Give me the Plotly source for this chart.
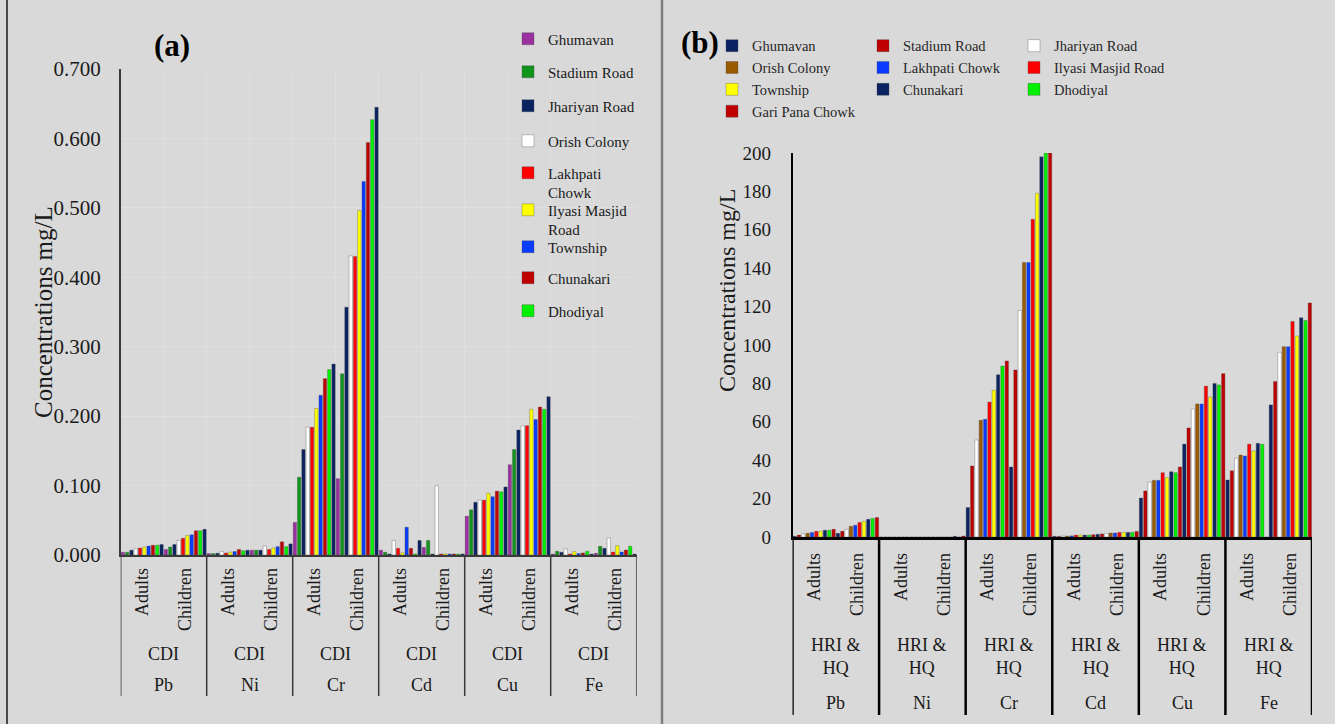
import plotly.graph_objects as go

# ---------------- data ----------------
metals = ["Pb", "Ni", "Cr", "Cd", "Cu", "Fe"]
groups = ["Adults", "Children"]
index_a = "CDI"
index_b = "HRI &<br>HQ"

# Panel (a): CDI (mg/L), order: Pb-A, Pb-C, Ni-A, Ni-C, Cr-A, Cr-C, Cd-A, Cd-C, Cu-A, Cu-C, Fe-A, Fe-C
cdi_ghumavan = [0.004, 0.008, 0.002, 0.007, 0.047, 0.110, 0.007, 0.011, 0.056, 0.130, 0.0014, 0.0024]
cdi_stadium = [0.004, 0.0115, 0.002, 0.007, 0.112, 0.261, 0.004, 0.021, 0.065, 0.152, 0.0053, 0.0125]
cdi_jhariyan = [0.007, 0.015, 0.0025, 0.007, 0.152, 0.357, 0.0015, 0.0015, 0.076, 0.180, 0.004, 0.0096]
cdi_orish = [0.009, 0.021, 0.005, 0.013, 0.184, 0.431, 0.021, 0.100, 0.079, 0.186, 0.009, 0.0245]
cdi_lakhpati = [0.010, 0.024, 0.003, 0.008, 0.184, 0.430, 0.0096, 0.0015, 0.079, 0.186, 0.0014, 0.0043]
cdi_ilyasi = [0.0115, 0.028, 0.004, 0.010, 0.211, 0.496, 0.003, 0.0015, 0.089, 0.210, 0.0048, 0.0134]
cdi_township = [0.013, 0.029, 0.005, 0.012, 0.230, 0.538, 0.040, 0.0015, 0.084, 0.195, 0.002, 0.0043]
cdi_chunakari = [0.014, 0.035, 0.008, 0.019, 0.254, 0.594, 0.0096, 0.0015, 0.092, 0.213, 0.003, 0.0072]
cdi_dhodiyal = [0.014, 0.035, 0.006, 0.012, 0.267, 0.627, 0.0015, 0.0015, 0.091, 0.210, 0.0053, 0.0125]
cdi_garipana = [0.015, 0.037, 0.007, 0.016, 0.275, 0.645, 0.021, 0.0015, 0.098, 0.228, 0.0014, 0.0014]

# Panel (b): HRI & HQ
hq_ghumavan = [0.35, 1.9, 0, 0, 15.3, 36.5, 0.35, 1.4, 20.3, 48.4, 29.7, 68.8]
hq_stadium = [1.0, 2.95, 0, 0, 37.0, 87.0, 0.35, 1.6, 24.0, 56.8, 34.5, 81.0]
hq_jhariyan = [1.6, 4.0, 0, 0, 50.5, 118.0, 0.5, 1.9, 28.6, 66.7, 41.1, 96.2]
hq_orish = [1.9, 5.6, 0, 0, 60.8, 143.0, 0.5, 2.1, 29.5, 69.3, 42.7, 99.1]
hq_lakhpati = [2.4, 6.1, 0, 0, 61.3, 143.0, 0.6, 2.1, 29.5, 69.3, 42.2, 99.1]
hq_ilyasi = [2.95, 7.6, 0, 0, 70.3, 165.5, 1.0, 2.4, 33.5, 78.6, 48.4, 112.3]
hq_township = [2.95, 8.2, 0, 0, 76.4, 179.0, 1.0, 2.4, 30.9, 72.9, 44.8, 104.7]
hq_chunakari = [3.5, 9.2, 0, 0.35, 84.5, 198.0, 1.0, 2.4, 34.0, 80.0, 48.8, 114.2]
hq_dhodiyal = [3.5, 9.7, 0, 0, 89.0, 200.0, 1.0, 2.4, 33.5, 79.2, 48.3, 112.8]
hq_garipana = [4.0, 10.2, 0, 0.5, 91.7, 200.0, 1.2, 2.9, 36.5, 85.1, 0, 121.9]

names_a = ["Ghumavan", "Stadium Road", "Jhariyan Road", "Orish Colony", "Lakhpati<br>Chowk",
           "Ilyasi Masjid<br>Road", "Township", "Chunakari", "Dhodiyal", "Gari Pana Chowk"]
series_a = [cdi_ghumavan, cdi_stadium, cdi_jhariyan, cdi_orish, cdi_lakhpati, cdi_ilyasi,
            cdi_township, cdi_chunakari, cdi_dhodiyal, cdi_garipana]
colors_a = ["#9b30a0", "#11941a", "#0a2262", "#ffffff", "#ff0000", "#ffff00", "#0a3cff",
            "#c00000", "#00f000", "#0a2262"]

names_b = ["Ghumavan", "Stadium Road", "Jhariyan Road", "Orish Colony", "Lakhpati Chowk",
           "Ilyasi Masjid Road", "Township", "Chunakari", "Dhodiyal", "Gari Pana Chowk"]
series_b = [hq_ghumavan, hq_stadium, hq_jhariyan, hq_orish, hq_lakhpati, hq_ilyasi,
            hq_township, hq_chunakari, hq_dhodiyal, hq_garipana]
colors_b = ["#0a2262", "#c00000", "#ffffff", "#9a5a00", "#0a3cff", "#ff0000", "#ffff00",
            "#0a2262", "#00f000", "#c00000"]

# ---------------- layout helpers ----------------
W, H = 1335, 724
SERIF = "Liberation Serif"
BG = "#d9d9d9"
TXT = "#1a1a1a"


def px(x):
    return x / W


def py(y):
    return 1 - y / H


labels = [g for m in metals for g in groups]
xpos = list(range(len(labels)))
bounds = [i - 0.5 for i in range(0, len(labels) + 1, 2)]
half_bounds = [i - 0.5 for i in range(0, len(labels) + 1)]

fig = go.Figure()

# panel (a) legends: one per entry so spacing matches the reference
leg_a_y = [40, 73, 107, 142, 174, 211, 248, 279, 312]
leg_b_col_x = [752, 903, 1054]
leg_b_row_y = [46.7, 69, 91.3, 113.6]

layout_legends = {}
for i, (nm, vals, col) in enumerate(zip(names_a, series_a, colors_a)):
    show = i < 9
    key = "legend" if i == 0 else f"legend{i + 1}"
    fig.add_trace(go.Bar(x=xpos, y=vals, name=nm, marker_color=col,
                         marker_line=dict(width=0.6, color="rgba(70,70,70,0.55)"),
                         xaxis="x", yaxis="y", showlegend=show,
                         legend=key if show else None))
    if show:
        layout_legends[key] = dict(
            x=px(548 - 40), y=py(leg_a_y[i] - 17.5), xanchor="left", yanchor="top",
            bgcolor="rgba(0,0,0,0)", valign="top",
            font=dict(family=SERIF, size=15, color=TXT))

for i, (nm, vals, col) in enumerate(zip(names_b, series_b, colors_b)):
    key = f"legend{10 + i % 3}"
    fig.add_trace(go.Bar(x=xpos, y=vals, name=nm, marker_color=col,
                         marker_line=dict(width=0.6, color="rgba(70,70,70,0.55)"),
                         xaxis="x2", yaxis="y2", legend=key))
for c in range(3):
    layout_legends[f"legend{10 + c}"] = dict(
        x=px(leg_b_col_x[c] - 40), y=py(leg_b_row_y[0] - 17), xanchor="left", yanchor="top",
        bgcolor="rgba(0,0,0,0)", tracegroupgap=0, traceorder="normal",
        font=dict(family=SERIF, size=14.5, color="#262626"))

fig.update_layout(
    template="none",
    width=W, height=H, autosize=False,
    margin=dict(l=0, r=0, t=0, b=0),
    paper_bgcolor=BG, plot_bgcolor=BG,
    barmode="group", bargap=0.0, bargroupgap=0.22,
    font=dict(family=SERIF, color=TXT),
    xaxis=dict(domain=[px(120.7), px(636.7)], range=[-0.5, len(labels) - 0.5],
               tickmode="array", tickvals=xpos, ticktext=labels, tickangle=-90,
               tickfont=dict(family=SERIF, size=18, color=TXT),
               showline=True, linecolor="#3a3a3a", linewidth=1.5, anchor="y",
               ticklabelstandoff=4,
               minor=dict(tickmode="array", tickvals=half_bounds, showgrid=True,
                          gridcolor="#dfdfdf", gridwidth=1, ticks=""),
               showgrid=False, zeroline=False, ticks=""),
    yaxis=dict(domain=[py(555), py(69)], range=[0, 0.7], dtick=0.1, tickformat=".3f",
               tickfont=dict(family=SERIF, size=21, color=TXT),
               showline=True, linecolor="#3a3a3a", linewidth=1.5, anchor="x",
               showgrid=True, gridcolor="#dfdfdf", gridwidth=1, zeroline=False,
               ticks="", ticklabelstandoff=14),
    xaxis2=dict(domain=[px(792.5), px(1312)], range=[-0.5, len(labels) - 0.5],
                tickmode="array", tickvals=xpos, ticktext=labels, tickangle=-90,
                tickfont=dict(family=SERIF, size=18, color=TXT),
                showline=True, linecolor="#000000", linewidth=2.5, anchor="y2",
                ticklabelstandoff=6, showgrid=False, zeroline=False, ticks=""),
    yaxis2=dict(domain=[py(537), py(153)], range=[0, 200], dtick=20,
                tickfont=dict(family=SERIF, size=19, color=TXT),
                showline=True, linecolor="#000000", linewidth=1.5, anchor="x2",
                showgrid=False, zeroline=False, ticks="", ticklabelstandoff=16),
    **layout_legends,
)

shapes = []
# table lines under panel (a)
for b in bounds:
    shapes.append(dict(type="line", xref="x", yref="paper", x0=b, x1=b,
                       y0=py(555), y1=py(696), line=dict(color="#3a3a3a", width=1.5)))
# table lines under panel (b)
for b in bounds:
    shapes.append(dict(type="line", xref="x2", yref="paper", x0=b, x1=b,
                       y0=py(537), y1=py(715), line=dict(color="#000000", width=2.5)))
# panel frames
shapes.append(dict(type="line", xref="paper", yref="paper", x0=px(7), x1=px(7), y0=0, y1=1,
                   line=dict(color="#1a1a1a", width=1.5)))
shapes.append(dict(type="line", xref="paper", yref="paper", x0=px(662), x1=px(662), y0=0, y1=1,
                   line=dict(color="#7f7f7f", width=2.5)))

annotations = []
lab_font = dict(family=SERIF, size=18, color=TXT)
for k, m in enumerate(metals):
    cx = 2 * k + 0.5
    annotations.append(dict(x=cx, xref="x", y=py(654), yref="paper", text=index_a,
                            xanchor="center", yanchor="middle", showarrow=False, font=lab_font))
    annotations.append(dict(x=cx, xref="x", y=py(685), yref="paper", text=m,
                            xanchor="center", yanchor="middle", showarrow=False, font=lab_font))
    annotations.append(dict(x=cx, xref="x2", y=py(656), yref="paper", text=index_b,
                            xanchor="center", yanchor="middle", showarrow=False, font=lab_font))
    annotations.append(dict(x=cx, xref="x2", y=py(703), yref="paper", text=m,
                            xanchor="center", yanchor="middle", showarrow=False, font=lab_font))

annotations += [
    dict(x=px(172), y=py(45), xref="paper", yref="paper", text="<b>(a)</b>", showarrow=False,
         xanchor="center", yanchor="middle", font=dict(family=SERIF, size=31, color="#000000")),
    dict(x=px(700), y=py(42), xref="paper", yref="paper", text="<b>(b)</b>", showarrow=False,
         xanchor="center", yanchor="middle", font=dict(family=SERIF, size=31, color="#000000")),
    dict(x=px(43), y=py(312), xref="paper", yref="paper", text="Concentrations mg/L",
         xanchor="center", yanchor="middle",
         textangle=-90, showarrow=False, font=dict(family=SERIF, size=25, color=TXT)),
    dict(x=px(727), y=py(291), xref="paper", yref="paper", text="Concentrations mg/L",
         xanchor="center", yanchor="middle",
         textangle=-90, showarrow=False, font=dict(family=SERIF, size=24, color=TXT)),
]

fig.update_layout(shapes=shapes, annotations=annotations)
fig.write_html("out.html",
               config={"displayModeBar": False},
               post_script="document.body.style.margin='0px';document.body.style.overflow='hidden';")
